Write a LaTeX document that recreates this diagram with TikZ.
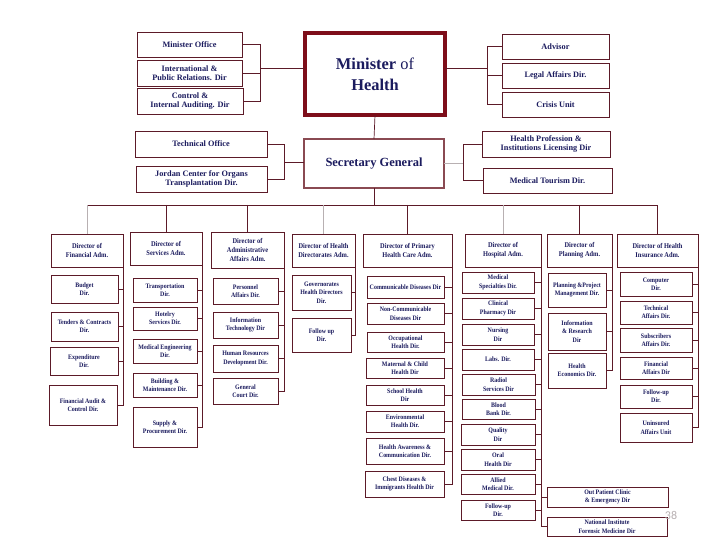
\documentclass[tikz,border=0pt]{standalone}
\usepackage{fontspec}
\setmainfont{Liberation Serif}
\newfontfamily\condfont[FakeStretch=0.88]{Liberation Serif}
\newfontfamily\pgnumfont{Carlito}
\definecolor{lc}{HTML}{5C1A28}
\definecolor{tc}{HTML}{1B1B5E}
\definecolor{mohc}{HTML}{7E0E1A}
\definecolor{sgc}{HTML}{8A4A52}
\definecolor{glc}{HTML}{B8B0B2}
\newcommand\bx[7][]{\node[box,#1,minimum width={(#5-#3)*1bp},minimum height={(#6-#4)*1bp}] (#2) at ({(#3+#5)/2},{(#4+#6)/2}) {#7};}
\tikzset{
  box/.style={draw=lc, line width=0.7pt, inner sep=0.3pt, outer sep=0pt, align=center, text=tc, font=\condfont\bfseries\fontsize{6.8}{8.4}\selectfont},
  topbox/.style={font=\bfseries\fontsize{8.3}{9.4}\selectfont},
  dirbox/.style={font=\condfont\bfseries\fontsize{7.3}{9.4}\selectfont},
  ln/.style={draw=lc, line width=0.7pt},
  gl/.style={draw=glc, line width=0.7pt},
}
\begin{document}
\begin{tikzpicture}[x=1bp,y=-1bp]
\useasboundingbox[fill=white] (0,0) rectangle (720,540);
% ---- top level
\bx[topbox]{mo}{137}{32}{242}{57}{Minister Office}
\bx[topbox]{ipr}{137}{60}{242}{86}{International \&\\Public Relations. Dir}
\bx[topbox]{cia}{137}{88}{243}{114}{Control \&\\Internal Auditing. Dir}
\node[box,draw=mohc,line width=3.6pt,minimum width=140bp,minimum height=82bp,font=\bfseries\fontsize{16.5}{21}\selectfont] (moh) at (375,74) {Minister {\mdseries of}\\Health};
\bx[topbox]{adv}{502}{34}{609}{59}{Advisor}
\bx[topbox]{lad}{502}{63}{609}{88}{Legal Affairs Dir.}
\bx[topbox]{cru}{502}{92}{609}{117}{Crisis Unit}
\bx[topbox]{tec}{135}{131}{267}{157}{Technical Office}
\bx[topbox]{jct}{136}{166}{267}{192}{Jordan Center for Organs\\Transplantation Dir.}
\node[box,draw=sgc,line width=2.2pt,minimum width=140bp,minimum height=49bp,font=\bfseries\fontsize{12.5}{14}\selectfont] (sg) at (374,163.5) {Secretary General};
\bx[topbox]{hpl}{482}{131}{610}{157}{Health Profession \&\\Institutions Licensing Dir}
\bx[topbox]{mtd}{483}{168}{612}{193}{Medical Tourism Dir.}
% top connectors
\coordinate (lb) at (260,68);
\coordinate (rb) at (487,68);
\coordinate (lsb) at (284,162);
\coordinate (rsb) at (463,163);
\draw[ln] (lb) -- (lb -| moh.west);
\draw[ln] (mo.east) -- (mo.east -| lb) -- (cia.east -| lb) -- (cia.east);
\draw[ln] (ipr.east) -- (ipr.east -| lb);
\draw[ln] (rb -| moh.east) -- (rb);
\draw[ln] (adv.west) -- (adv.west -| rb) -- (cru.west -| rb) -- (cru.west);
\draw[ln] (lad.west) -- (lad.west -| rb);
\draw[ln] (moh.south) -- (sg.north);
\draw[ln] (lsb) -- (lsb -| sg.west);
\draw[ln] (tec.east) -- (tec.east -| lsb) -- (jct.east -| lsb) -- (jct.east);
\draw[gl] (rsb -| sg.east) -- (rsb);
\draw[ln] (hpl.west) -- (hpl.west -| rsb) -- (mtd.west -| rsb) -- (mtd.west);
% ---- directors
\bx[dirbox]{fin}{51}{234}{123}{267}{Director of\\Financial Adm.}
\bx[dirbox]{srv}{130}{232}{202}{265}{Director of\\Services Adm.}
\bx[dirbox]{adm}{211}{232}{284}{268}{Director of\\Administrative\\Affairs Adm.}
\bx[dirbox]{hd}{292}{234}{355}{267}{Director of Health\\Directorates Adm.}
\bx[dirbox]{phc}{363}{234}{452}{267}{Director of Primary\\Health Care Adm.}
\bx[dirbox]{hos}{465}{234}{541}{267}{Director of\\Hospital Adm.}
\bx[dirbox]{pln}{547}{234}{612}{267}{Director of\\Planning Adm.}
\bx[dirbox]{ins}{617}{234}{698}{267}{Director of  Health\\Insurance Adm.}
\coordinate (bus) at (374,205);
\draw[ln] (sg.south) -- (bus);
\draw[ln] (fin.north |- bus) -- (ins.north |- bus) -- (ins.north);
\draw[gl] (fin.north |- bus) -- (fin.north);
\draw[ln] (srv.north |- bus) -- (srv.north);
\draw[ln] (adm.north |- bus) -- (adm.north);
\draw[gl] (hd.north |- bus) -- (hd.north);
\draw[ln] (phc.north |- bus) -- (phc.north);
\draw[gl] (hos.north |- bus) -- (hos.north);
\draw[ln] (pln.north |- bus) -- (pln.north);
% ---- column 1
\bx{bud}{51}{275}{118}{303}{Budget\\Dir.}
\bx{ten}{51}{312}{118}{341}{Tenders \& Contracts\\Dir.}
\bx{exd}{50}{347}{118}{375}{Expenditure\\Dir.}
\bx{fac}{49}{385}{117}{425}{Financial Audit \&\\Control Dir.}
\draw[ln] (fin.south east) -- (fac.east -| fin.east) -- (fac.east);
\foreach \n in {bud,ten,exd} \draw[ln] (\n.east) -- (\n.east -| fin.east);
% ---- column 2
\bx{tra}{133}{278}{197}{302}{Transportation\\Dir.}
\bx{hot}{133}{307}{197}{330}{Hotelry\\Services Dir.}
\bx{meg}{133}{339}{197}{363}{Medical Engineering\\Dir.}
\bx{bld}{133}{373}{197}{397}{Building \&\\Maintenance Dir.}
\bx{sup}{133}{407}{197}{447}{Supply \&\\Procurement  Dir.}
\draw[ln] (srv.south east) -- (sup.east -| srv.east) -- (sup.east);
\foreach \n in {tra,hot,meg,bld} \draw[ln] (\n.east) -- (\n.east -| srv.east);
% ---- column 3
\bx{per}{213}{278}{278}{304}{Personnel\\Affairs Dir.}
\bx{itd}{213}{312}{278}{338}{Information\\Technology Dir}
\bx{hrd}{213}{345}{278}{372}{Human Resources\\Development Dir.}
\bx{gcd}{213}{378}{278}{404}{General\\Court Dir.}
\draw[ln] (adm.south east) -- (gcd.east -| adm.east) -- (gcd.east);
\foreach \n in {per,itd,hrd} \draw[ln] (\n.east) -- (\n.east -| adm.east);
% ---- column 4
\bx{gov}{292}{275}{351}{310}{Governorates\\Health Directors\\Dir.}
\bx{fup}{292}{318}{351}{352}{Follow  up\\Dir.}
\draw[ln] (hd.south east) -- (fup.east -| hd.east) -- (fup.east);
\draw[ln] (gov.east) -- (gov.east -| hd.east);
% ---- column 5
\bx{cdd}{367}{276}{444}{298}{Communicable Diseases Dir}
\bx{ncd}{367}{303}{444}{324}{Non-Communicable\\Diseases Dir}
\bx{ohd}{367}{332}{444}{352}{Occupational\\Health Dir.}
\bx{mch}{366}{358}{444}{378}{Maternal \& Child\\Health Dir}
\bx{shd}{366}{385}{444}{405}{School Health\\Dir}
\bx{ehd}{366}{411}{444}{432}{Environmental\\Health Dir.}
\bx{hac}{366}{438}{444}{464}{Health Awareness \&\\Communication Dir.}
\bx{cdi}{365}{471}{444}{497}{Chest Diseases \&\\Immigrants Health Dir}
\draw[ln] (phc.south east) -- (cdi.east -| phc.east) -- (cdi.east);
\foreach \n in {cdd,ncd,ohd,mch,shd,ehd,hac} \draw[ln] (\n.east) -- (\n.east -| phc.east);
% ---- column 6
\bx{msd}{462}{272}{534}{293}{Medical\\Specialties Dir.}
\bx{cpd}{462}{298}{534}{319}{Clinical\\Pharmacy Dir}
\bx{nrd}{462}{324}{534}{345}{Nursing\\Dir}
\bx{lab}{462}{349}{534}{370}{Labs. Dir.}
\bx{rad}{462}{374}{535}{395}{Radiol\\Services Dir}
\bx{bbd}{462}{399}{535}{419}{Blood\\Bank Dir.}
\bx{qld}{461}{424}{535}{445}{Quality\\Dir}
\bx{ohl}{461}{449}{535}{470}{Oral\\Health Dir}
\bx{amd}{461}{474}{535}{494}{Allied\\Medical Dir.}
\bx{hfu}{461}{500}{535}{520}{Follow-up\\Dir.}
\bx{opc}{547}{487}{668}{507}{Out Patient Clinic\\\& Emergency Dir}
\bx{nif}{547}{517}{667}{536}{National Institute\\Forensic Medicine Dir}
\draw[ln] (hos.south east) -- (nif.west -| hos.east) -- (nif.west);
\draw[ln] (opc.west -| hos.east) -- (opc.west);
\foreach \n in {msd,cpd,nrd,lab,rad,bbd,qld,ohl,amd,hfu} \draw[ln] (\n.east) -- (\n.east -| hos.east);
% ---- column 7
\bx{ppm}{548}{273}{606}{307}{Planning \&Project\\Management Dir.}
\bx{ird}{548}{313}{606}{350}{Information\\\& Research\\Dir}
\bx{hec}{548}{353}{606}{388}{Health\\Economics Dir.}
\draw[ln] (pln.south east) -- (hec.east -| pln.east) -- (hec.east);
\foreach \n in {ppm,ird} \draw[ln] (\n.east) -- (\n.east -| pln.east);
% ---- column 8
\bx{cmp}{620}{272}{692}{296}{Computer\\Dir.}
\bx{tad}{620}{301}{692}{324}{Technical\\Affairs Dir.}
\bx{sad}{620}{328}{692}{352}{Subscribers\\Affairs Dir.}
\bx{faf}{620}{357}{692}{379}{Financial\\Affairs Dir}
\bx{ifu}{620}{385}{692}{408}{Follow-up\\Dir.}
\bx{uau}{620}{413}{692}{442}{Uninsured\\Affairs Unit}
\draw[ln] (ins.south east) -- (uau.east -| ins.east) -- (uau.east);
\foreach \n in {cmp,tad,sad,faf,ifu} \draw[ln] (\n.east) -- (\n.east -| ins.east);
% page number
\node[font=\pgnumfont\fontsize{12}{12}\selectfont, text=glc, inner sep=0pt] (pg) at (671,515) {38};
\end{tikzpicture}
\end{document}
